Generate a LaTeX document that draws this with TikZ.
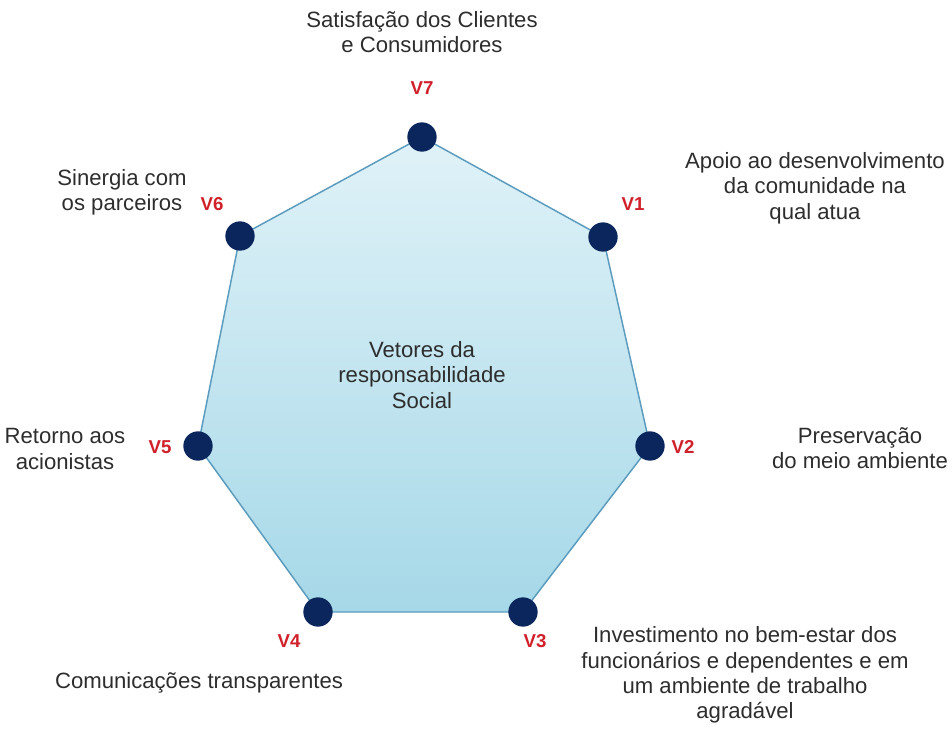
\documentclass[tikz,border=0pt]{standalone}
\usepackage{fontspec}
\setmainfont{Liberation Sans}
\definecolor{vecred}{RGB}{208, 32, 42}
\definecolor{vecnavy}{RGB}{10, 38, 92}
\definecolor{vecedge}{RGB}{91, 155, 189}
\definecolor{vectop}{RGB}{224, 242, 248}
\definecolor{vecbottom}{RGB}{166, 216, 232}
\definecolor{vectext}{RGB}{45, 45, 45}
\usetikzlibrary{positioning}
\tikzset{
    vdot/.style={circle, fill=vecnavy, inner sep=0pt, minimum size=22},
    vlabel/.style={text=vecred, font=\fontsize{14}{16}\selectfont\bfseries, inner sep=0pt},
    desc/.style={text=vectext, align=center, font=\fontsize{16.6}{19}\selectfont, inner sep=0pt},
    hepta/.style={draw=vecedge, line width=1.1pt, top color=vectop, bottom color=vecbottom},
}
\begin{document}
\begin{tikzpicture}[x=0.75pt, y=0.75pt]
            \useasboundingbox (0,0) rectangle (952,733);
            % vertices of the heptagon
            \coordinate (p7) at (422,596);
            \coordinate (p1) at (603,496);
            \coordinate (p2) at (650,287);
            \coordinate (p3) at (523,121);
            \coordinate (p4) at (318,121);
            \coordinate (p5) at (198,287);
            \coordinate (p6) at (240,497);
            \draw[hepta] (p7) -- (p1) -- (p2) -- (p3) -- (p4) -- (p5) -- (p6) -- cycle;

            \node[vdot] (v7) at (p7) {};
            \node[vdot] (v1) at (p1) {};
            \node[vdot] (v2) at (p2) {};
            \node[vdot] (v3) at (p3) {};
            \node[vdot] (v4) at (p4) {};
            \node[vdot] (v5) at (p5) {};
            \node[vdot] (v6) at (p6) {};

            \node[vlabel] (l7) at (422,645) {V7};
            \node[vlabel] (l1) at (633,529) {V1};
            \node[vlabel] (l2) at (683,286) {V2};
            \node[vlabel] (l3) at (535,92) {V3};
            \node[vlabel] (l4) at (289,92) {V4};
            \node[vlabel] (l5) at (160,286) {V5};
            \node[vlabel] (l6) at (212,529) {V6};

            \node[desc] (center) at (422,358) {Vetores da\\responsabilidade\\Social};
            \node[desc] (d7) at (422,701) {Satisfação dos Clientes\\e Consumidores};
            \node[desc] (d1) at (815,545) {Apoio ao desenvolvimento\\da comunidade na\\qual atua};
            \node[desc] (d2) at (860,285) {Preservação\\do meio ambiente};
            \node[desc] (d3) at (745,58) {Investimento no bem-estar dos\\funcionários e dependentes e em\\um ambiente de trabalho\\agradável};
            \node[desc] (d4) at (199,50) {Comunicações transparentes};
            \node[desc] (d5) at (65,284) {Retorno aos\\acionistas};
            \node[desc] (d6) at (122,541) {Sinergia com\\os parceiros};
        \end{tikzpicture}
\end{document}
